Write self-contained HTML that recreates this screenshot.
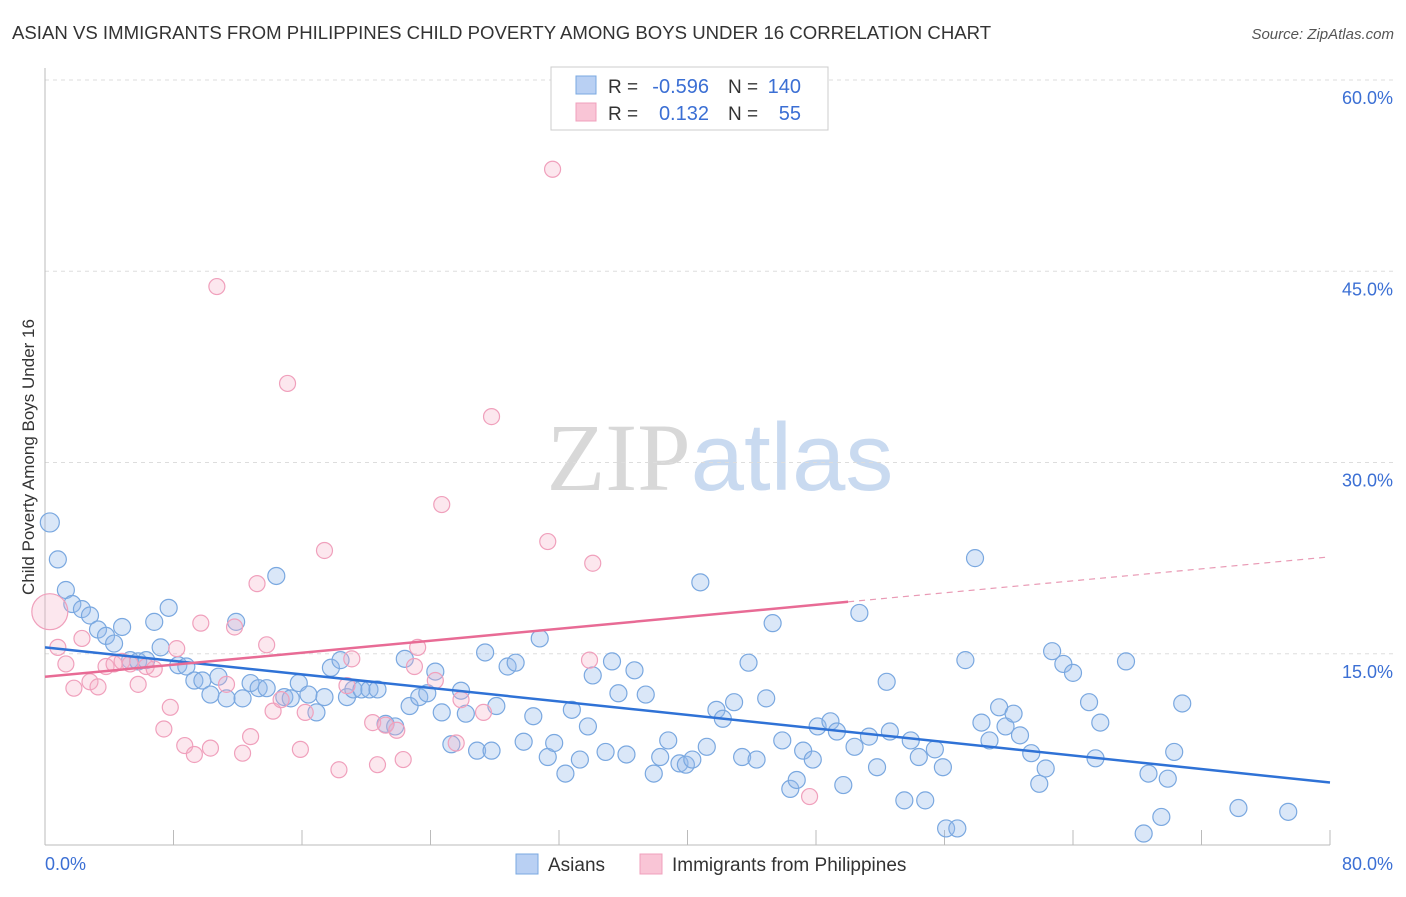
<!DOCTYPE html>
<html><head><meta charset="utf-8"><style>
body{margin:0;background:#fff;font-family:"Liberation Sans",sans-serif;}
svg text{font-family:"Liberation Sans",sans-serif;}
</style></head><body>
<svg id="chart" width="1406" height="892" xmlns="http://www.w3.org/2000/svg">
<text x="12" y="39" font-size="18.6" fill="#333">ASIAN VS IMMIGRANTS FROM PHILIPPINES CHILD POVERTY AMONG BOYS UNDER 16 CORRELATION CHART</text>
<text x="1394" y="39" font-size="15" fill="#555" font-style="italic" text-anchor="end">Source: ZipAtlas.com</text>
<text x="720" y="490" font-size="96" text-anchor="middle"><tspan fill="#d8d8d8" font-family="Liberation Serif">ZIP</tspan><tspan fill="#c9daf0">atlas</tspan></text>
<g id="grid"></g>
<g id="axes"></g>
<g id="pts"></g>
<g id="trend"></g>
<text transform="translate(34,457) rotate(-90)" font-size="17" fill="#333" text-anchor="middle">Child Poverty Among Boys Under 16</text>
<g>
<rect x="551" y="67" width="277" height="63" fill="#fff" stroke="#ccc"/>
<rect x="576" y="76" width="20" height="18" fill="#b9d0f3" stroke="#7aa8e0"/>
<rect x="576" y="103" width="20" height="18" fill="#f9c5d6" stroke="#f0a0bc"/>
<text x="608" y="93" font-size="19" fill="#333">R =</text>
<text x="709" y="93" font-size="20" fill="#3b6fd4" text-anchor="end">-0.596</text>
<text x="728" y="93" font-size="19" fill="#333">N =</text>
<text x="801" y="93" font-size="20" fill="#3b6fd4" text-anchor="end">140</text>
<text x="608" y="120" font-size="19" fill="#333">R =</text>
<text x="709" y="120" font-size="20" fill="#3b6fd4" text-anchor="end">0.132</text>
<text x="728" y="120" font-size="19" fill="#333">N =</text>
<text x="801" y="120" font-size="20" fill="#3b6fd4" text-anchor="end">55</text>
</g>
<g>
<rect x="516" y="854" width="22" height="20" fill="#b9d0f3" stroke="#7aa8e0"/>
<text x="548" y="871" font-size="19" fill="#333">Asians</text>
<rect x="640" y="854" width="22" height="20" fill="#f9c5d6" stroke="#f0a0bc"/>
<text x="672" y="871" font-size="19" fill="#333">Immigrants from Philippines</text>
</g>
</svg>
<script>
const yTicks=[15,30,45,60];
const xTickLabels=["0.0%","80.0%"];
const blueX=[0.3,0.8,1.3,1.7,2.3,2.8,3.3,3.8,4.3,4.8,5.3,5.8,6.3,6.8,7.2,7.7,8.3,8.8,9.3,9.8,10.3,10.8,11.3,11.9,12.3,12.8,13.3,13.8,14.4,14.9,15.3,15.8,16.4,16.9,17.4,17.8,18.4,18.8,19.2,19.7,20.2,20.7,21.2,21.8,22.4,22.7,23.3,23.8,24.3,24.7,25.3,25.9,26.2,26.9,27.4,27.8,28.1,28.8,29.3,29.8,30.4,30.8,31.3,31.7,32.4,32.8,33.3,33.8,34.1,34.9,35.3,35.7,36.2,36.7,37.4,37.9,38.3,38.8,39.5,39.9,40.3,40.8,41.2,41.8,42.2,42.9,43.4,43.8,44.3,44.9,45.3,45.9,46.4,46.8,47.2,47.8,48.1,48.9,49.3,49.7,50.4,50.7,51.3,51.8,52.4,52.6,53.5,53.9,54.4,54.8,55.4,55.9,56.1,56.8,57.3,57.9,58.3,58.8,59.4,59.8,60.3,60.7,61.4,61.9,62.3,62.7,63.4,64.0,65.0,65.4,65.7,67.3,68.4,68.7,69.5,69.9,70.3,70.8,74.3,77.4];
const blueY=[25.3,22.4,20.0,18.9,18.5,18.0,16.9,16.4,15.8,17.1,14.5,14.4,14.5,17.5,15.5,18.6,14.1,14.0,12.9,12.9,11.8,13.2,11.5,17.5,11.5,12.7,12.3,12.3,21.1,11.6,11.5,12.7,11.8,10.4,11.6,13.9,14.5,11.6,12.2,12.2,12.2,12.2,9.5,9.3,14.6,10.9,11.6,11.9,13.6,10.4,7.9,12.1,10.3,7.4,15.1,7.4,10.9,14.0,14.3,8.1,10.1,16.2,6.9,8.0,5.6,10.6,6.7,9.3,13.3,7.3,14.4,11.9,7.1,13.7,11.8,5.6,6.9,8.2,6.4,6.3,6.7,20.6,7.7,10.6,9.9,11.2,6.9,14.3,6.7,11.5,17.4,8.2,4.4,5.1,7.4,6.7,9.3,9.7,8.9,4.7,7.7,18.2,8.5,6.1,12.8,8.9,3.5,8.2,6.9,3.5,7.5,6.1,1.3,1.3,14.5,22.5,9.6,8.2,10.8,9.3,10.3,8.6,7.2,4.8,6.0,15.2,14.2,13.5,11.2,6.8,9.6,14.4,0.9,5.6,2.2,5.2,7.3,11.1,2.9,2.6];
const pinkX=[0.3,0.8,1.3,1.8,2.3,2.8,3.3,3.8,4.3,4.8,5.3,5.8,6.3,6.8,7.4,7.8,8.2,8.7,9.3,9.7,10.3,10.7,11.3,11.8,12.3,12.8,13.2,13.8,14.2,14.7,15.1,15.9,16.2,17.4,18.3,18.8,19.1,20.4,20.7,21.2,21.9,22.3,23.0,23.2,24.3,24.7,25.6,25.9,27.3,27.8,31.3,31.6,34.1,33.9,47.6];
const pinkY=[18.3,15.5,14.2,12.3,16.2,12.8,12.4,14.0,14.2,14.4,14.2,12.6,14.0,13.8,9.1,10.8,15.4,7.8,7.1,17.4,7.6,43.8,12.6,17.1,7.2,8.5,20.5,15.7,10.5,11.4,36.2,7.5,10.4,23.1,5.9,12.5,14.6,9.6,6.3,9.4,9.0,6.7,14.0,15.5,12.9,26.7,8.0,11.4,10.4,33.6,23.8,53.0,22.1,14.5,3.8];
const blueTrend=[15.5,4.9];
const pinkTrend=[13.2,22.6];
const NS="http://www.w3.org/2000/svg";
const X=v=>45+v*1285/80, Y=v=>845-v*12.75;
function mk(t,a,p){const e=document.createElementNS(NS,t);for(const k in a)e.setAttribute(k,a[k]);p.appendChild(e);return e;}
const grid=document.getElementById('grid'),axes=document.getElementById('axes'),pts=document.getElementById('pts'),tr=document.getElementById('trend');
yTicks.forEach(t=>{
 const l=mk('line',{x1:45,x2:1394,y1:Y(t),y2:Y(t),stroke:'#ddd','stroke-dasharray':'4,4'},grid);
 
 
 const tx=mk('text',{x:1393,y:Y(t)+24,'font-size':18,fill:'#3b6fd4','text-anchor':'end'},axes);
 tx.textContent=t.toFixed(1)+'%';
 
 
});
mk('line',{x1:45,x2:45,y1:68,y2:845,stroke:'#bbb'},axes);
mk('line',{x1:45,x2:1330,y1:845,y2:845,stroke:'#bbb'},axes);
for(let i=0;i<=10;i++){mk('line',{x1:X(i*8),x2:X(i*8),y1:830,y2:845,stroke:'#bbb'},axes);}
const xl0=mk('text',{x:45,y:870,'font-size':18,fill:'#3b6fd4'},axes);xl0.textContent=xTickLabels[0];


const xl1=mk('text',{x:1393,y:870,'font-size':18,fill:'#3b6fd4','text-anchor':'end'},axes);xl1.textContent=xTickLabels[1];


blueX.forEach((v,i)=>{
 const c=mk('circle',{cx:X(v),cy:Y(blueY[i]),r:i==0?9.5:8.5,fill:'rgba(150,185,235,0.35)',stroke:'#7aa8e0','stroke-width':1.2},pts);
 
 
});
pinkX.forEach((v,i)=>{
 const c=mk('circle',{cx:X(v),cy:Y(pinkY[i]),r:i==0?18:8,fill:'rgba(245,175,200,0.3)',stroke:'#f0a0bc','stroke-width':1.2},pts);
 
 
});
const bl=mk('line',{x1:X(0),y1:Y(blueTrend[0]),x2:X(80),y2:Y(blueTrend[1]),stroke:'#2f72d6','stroke-width':2.5},tr);


const pAt=x=>pinkTrend[0]+(pinkTrend[1]-pinkTrend[0])*x/80;
const pl=mk('line',{x1:X(0),y1:Y(pAt(0)),x2:X(50),y2:Y(pAt(50)),stroke:'#e86b95','stroke-width':2.5},tr);


const pd=mk('line',{x1:X(50),y1:Y(pAt(50)),x2:X(80),y2:Y(pAt(80)),stroke:'#e99ab5','stroke-width':1.2,'stroke-dasharray':'6,5'},tr);


</script>
</body></html>
